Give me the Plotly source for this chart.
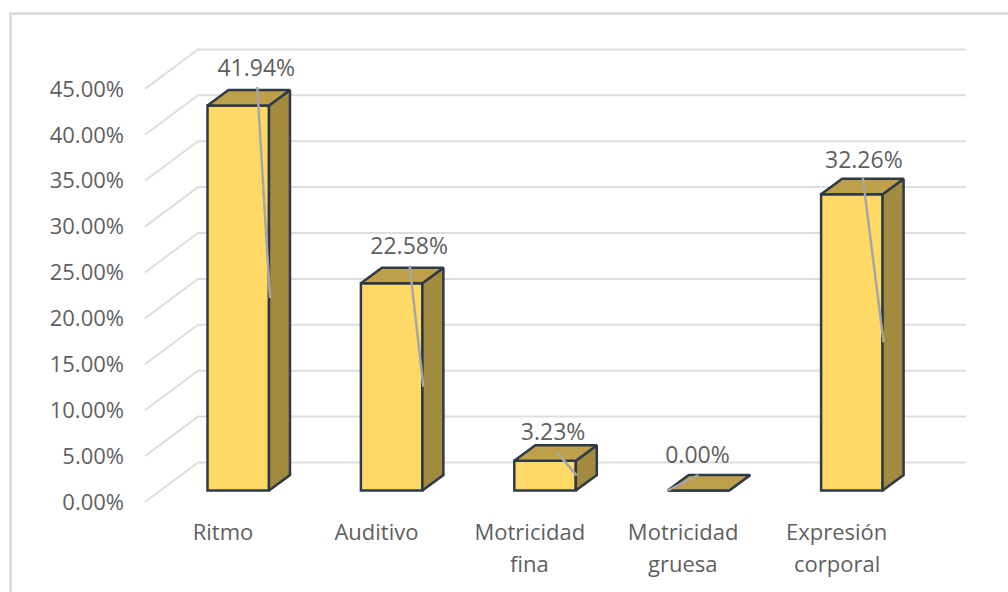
import plotly.graph_objects as go

categories = ["Ritmo", "Auditivo", "Motricidad fina", "Motricidad gruesa", "Expresión corporal"]
values = [41.94, 22.58, 3.23, 0.00, 32.26]
y_ticks = [0, 5, 10, 15, 20, 25, 30, 35, 40, 45]

# Layout geometry (pixels in the 1008x592 page)
W, H = 1008, 592
PX_L, PX_R, PX_T, PX_B = 125, 1000, 30, 517
X_STEP, Y_UNIT = 153.4, 9.18
LABEL_X0 = 223.0      # first category label centre
BAR_X0 = 238.25       # first bar centre (front face)
WALL_Y0 = 502.0       # pixel of 0 on the front edge of the wall (tick labels)
BAR_Y0 = 490.5        # pixel of 0 on the bars' front plane
BAR_W = 61.5 / X_STEP
DEPTH_X, DEPTH_Y = 21 / X_STEP, 15.5 / Y_UNIT
WALL_DX_L = (145 - LABEL_X0) / X_STEP
WALL_DX_B = (198 - LABEL_X0) / X_STEP
WALL_DX_R = (966 - LABEL_X0) / X_STEP
WALL_RISE = 39.5 / Y_UNIT

# Data label / leader placement relative to each bar (style only)
label_dx = [18, 17.5, 8, -1, 12]         # px from front-centre, for label
label_dy = [20, 19, 11, 18, 17]          # px above top back edge
leader_dx = [19, 18, 12, 0, 11]          # px from front-centre, leader start
leader_dy = [-3, -2, 7, 0, -1]           # px below top back edge

FRONT, TOP, SIDE = "#FFD966", "#BFA04A", "#A28A3E"
EDGE, GRID, LEADER, TEXT = "#2F3A48", "#DEDEDE", "#A6A6A6", "#5F5F5F"
FONT = "Open Sans"
FS = 22
FS_LABEL = 23

fig = go.Figure()

# Walls / gridlines, on the main axes
gx, gy = [], []
for v in y_ticks:
    gx += [WALL_DX_L, WALL_DX_B, WALL_DX_R, None]
    gy += [v, v + WALL_RISE, v + WALL_RISE, None]
fig.add_trace(go.Scatter(x=gx, y=gy, mode="lines", line=dict(color=GRID, width=2),
                         hoverinfo="skip", showlegend=False, xaxis="x", yaxis="y"))

# Front faces as real bars, on the overlay axes
fig.add_trace(go.Bar(x=list(range(len(values))), y=values, width=BAR_W,
                     marker=dict(color=FRONT, line=dict(color=EDGE, width=2.5)),
                     showlegend=False, xaxis="x2", yaxis="y2"))

# Top and side faces derived from values
tx, ty, sx, sy = [], [], [], []
for i, v in enumerate(values):
    a, b = i - BAR_W / 2, i + BAR_W / 2
    tx += [a, b, b + DEPTH_X, a + DEPTH_X, a, None]
    ty += [v, v, v + DEPTH_Y, v + DEPTH_Y, v, None]
    sx += [b, b + DEPTH_X, b + DEPTH_X, b, b, None]
    sy += [0, DEPTH_Y, v + DEPTH_Y, v, 0, None]
for fx, fy, col in ((sx, sy, SIDE), (tx, ty, TOP)):
    fig.add_trace(go.Scatter(x=fx, y=fy, mode="lines", fill="toself", fillcolor=col,
                             line=dict(color=EDGE, width=2.5), hoverinfo="skip",
                             showlegend=False, xaxis="x2", yaxis="y2"))

# Leader lines from label to the mid-height of the front right edge
lx, ly = [], []
for i, v in enumerate(values):
    if v > 0:
        end_x, end_y = i + BAR_W / 2 + 1 / X_STEP, v / 2
    else:
        end_x, end_y = i - BAR_W / 2, 0
    lx += [i + leader_dx[i] / X_STEP, end_x, None]
    ly += [v + DEPTH_Y - leader_dy[i] / Y_UNIT, end_y, None]
fig.add_trace(go.Scatter(x=lx, y=ly, mode="lines", line=dict(color=LEADER, width=2.5),
                         hoverinfo="skip", showlegend=False, xaxis="x2", yaxis="y2"))

# Data labels
fig.add_trace(go.Scatter(
    x=[i + label_dx[i] / X_STEP for i in range(len(values))],
    y=[v + DEPTH_Y + label_dy[i] / Y_UNIT for i, v in enumerate(values)],
    mode="text", text=[f"{v:.2f}%" for v in values], textposition="middle center",
    textfont=dict(family=FONT, size=FS_LABEL, color=TEXT), hoverinfo="skip",
    showlegend=False, xaxis="x2", yaxis="y2", cliponaxis=False))

first_lines = [c.split(" ", 1)[0] for c in categories]
second_lines = [(c.split(" ", 1) + [""])[1] for c in categories]

annotations = [dict(x=i, y=1 - 562.5 / H, xref="x", yref="paper", text=t, showarrow=False,
                    font=dict(family=FONT, size=FS, color=TEXT), xanchor="center", yanchor="middle")
               for i, t in enumerate(second_lines) if t]

dom_x = [PX_L / W, PX_R / W]
dom_y = [1 - PX_B / H, 1 - PX_T / H]
yr = lambda y0: [(y0 - PX_B) / Y_UNIT, (y0 - PX_T) / Y_UNIT]
xr = lambda x0: [(PX_L - x0) / X_STEP, (PX_R - x0) / X_STEP]

fig.update_layout(
    width=W, height=H, margin=dict(l=0, r=0, t=0, b=0, pad=0),
    paper_bgcolor="white", plot_bgcolor="rgba(0,0,0,0)", showlegend=False,
    font=dict(family=FONT, size=FS, color=TEXT),
    annotations=annotations,
    xaxis=dict(domain=dom_x, range=xr(LABEL_X0), tickmode="array",
               tickvals=list(range(len(first_lines))), ticktext=first_lines,
               showgrid=False, zeroline=False, showline=False, ticks="", anchor="y",
               tickfont=dict(family=FONT, size=FS, color=TEXT)),
    yaxis=dict(domain=dom_y, range=yr(WALL_Y0), tickmode="array", tickvals=y_ticks,
               ticktext=[f"{v:.2f}%" for v in y_ticks], showgrid=False, zeroline=False,
               showline=False, ticks="", anchor="x",
               tickfont=dict(family=FONT, size=FS, color=TEXT)),
    xaxis2=dict(domain=dom_x, range=xr(BAR_X0), overlaying="x", visible=False, anchor="y2"),
    yaxis2=dict(domain=dom_y, range=yr(BAR_Y0), overlaying="y", visible=False, anchor="x2"),
    shapes=[dict(type="path", xref="paper", yref="paper",
                 path=f"M {10.5/W} -0.1 L {10.5/W} {1-13.5/H} L 1.1 {1-13.5/H}",
                 line=dict(color="#D9D9D9", width=2.5))],
)

fig.write_html("out.html", config={"displayModeBar": False},
               post_script="document.body.style.margin='0';document.body.style.overflow='hidden';")
